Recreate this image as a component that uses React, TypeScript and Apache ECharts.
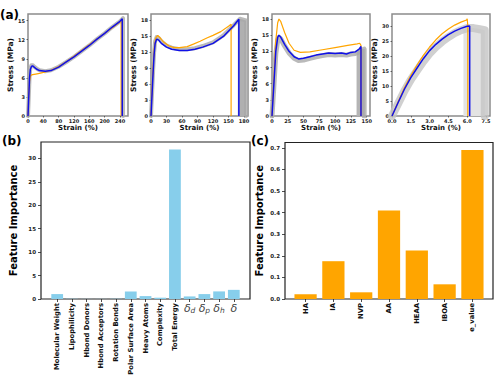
import React, { useEffect, useRef } from 'react';
import * as echarts from 'echarts';

type Pt = [number, number];

// ---------- (a) stress–strain data ----------
const p1Blue: Pt[] = [[0,0],[2,3],[4,6],[6,7.3],[9,7.8],[12,7.9],[16,7.7],[22,7.4],[30,7.15],[45,7.05],[60,7.15],[80,7.7],[100,8.5],[120,9.3],[140,10.2],[160,11.1],[180,12.1],[200,13.0],[220,14.0],[240,14.9],[246,15.3],[246,0]];
const p1Orange: Pt[] = [[0,0],[2,3],[4,5.5],[7,6.4],[12,6.5],[20,6.6],[30,6.7],[45,6.95],[60,7.2],[80,7.8],[100,8.55],[120,9.4],[140,10.3],[160,11.2],[180,12.1],[200,13.0],[220,13.9],[238,14.7],[243,15.0],[243,0]];
const p1Gray: Pt[] = [[0,0],[2,3],[4,6.1],[6,7.5],[9,8.0],[12,8.0],[16,7.8],[22,7.5],[30,7.2],[45,7.05],[60,7.2],[80,7.75],[100,8.5],[120,9.3],[140,10.2],[160,11.1],[180,12.1],[200,13.0],[220,14.0],[240,14.9],[248,15.4],[248,0]];

const p2Blue: Pt[] = [[0,0],[2,4],[4,8],[6,11.5],[8,13.6],[11,14.4],[15,14.2],[20,13.6],[30,12.9],[40,12.5],[55,12.25],[70,12.25],[85,12.5],[100,12.9],[120,13.6],[140,14.9],[153,16.2],[160,16.9],[170,18.1],[170,0]];
const p2Orange: Pt[] = [[0,0],[2,5],[4,9],[6,12.5],[9,14.6],[13,15.1],[18,14.6],[25,13.8],[35,13.1],[45,12.8],[55,12.8],[70,13.0],[82,13.45],[95,14.0],[108,14.6],[120,15.1],[135,15.8],[150,16.8],[155,17.2],[155,0]];
const p2Gray: Pt[] = [[0,0],[2,4.2],[4,8.3],[6,11.9],[8,14.0],[11,14.8],[15,14.6],[20,14.0],[30,13.2],[40,12.8],[55,12.5],[70,12.5],[85,12.7],[100,13.1],[120,13.8],[140,15.1],[160,17.0],[172,18.2],[184,17.9],[184,0]];
const p2Fracture: Pt[] = [[168,17.9],[172,18.2],[184,17.9],[184,0]];

const p3Blue: Pt[] = [[0,0],[3,6],[6,12],[9,14.6],[11,15.0],[14,14.6],[20,13.3],[27,12.0],[35,11.0],[42,10.6],[50,10.7],[60,11.0],[70,11.3],[80,11.5],[90,11.7],[100,11.6],[110,11.7],[118,11.5],[125,11.8],[132,11.9],[138,12.4],[141,12.9],[141,0]];
const p3Orange: Pt[] = [[0,0],[3,7],[6,14],[9,17.3],[11,18.0],[14,17.5],[20,15.5],[27,13.5],[35,12.2],[45,11.8],[60,11.9],[80,12.3],[100,12.7],[120,13.1],[135,13.4],[139,13.5],[141,13.1],[141,0]];
const p3Gray: Pt[] = [[0,0],[3,5.6],[6,11.5],[9,14.1],[11,14.6],[14,14.3],[20,13.0],[27,11.7],[35,10.7],[42,10.3],[50,10.4],[60,10.7],[70,11.0],[80,11.2],[90,11.4],[100,11.3],[110,11.4],[118,11.3],[125,11.5],[132,11.6],[140,12.0],[146,12.4],[146,0]];
const p3Fracture: Pt[] = [[134,11.8],[140,12.4],[147,12.5],[147,0]];

const p4Blue: Pt[] = [[0,0],[0.5,4.6],[1,9],[1.5,12.8],[2,16],[2.5,19.1],[3,21.8],[3.5,23.9],[4,25.6],[4.5,27.1],[5,28.3],[5.5,29.2],[6,29.9],[6.2,30.0],[6.2,0]];
const p4Orange: Pt[] = [[0,0],[0.5,4.8],[1,9.5],[1.5,13.5],[2,17],[2.5,20.2],[3,23.0],[3.5,25.4],[4,27.4],[4.5,29.0],[5,30.3],[5.5,31.3],[5.95,32.0],[6.0,32.4],[6.05,30.0],[6.05,0]];
const p4Gray: Pt[] = [[0,0],[0.5,4.2],[1,8.4],[1.5,12.1],[2,15.2],[2.5,18.2],[3,20.8],[3.5,23.0],[4,24.8],[4.5,26.3],[5,27.6],[5.5,28.6],[6,29.3],[6.5,29.3],[7,28.9],[7.4,28.6],[7.4,0]];
const p4Fracture: Pt[] = [[5.7,28.8],[6.2,29.5],[7,29.0],[7.4,28.6],[7.4,0]];

const p1XTicks = [0, 40, 80, 120, 160, 200, 240];
const p1YTicks = [0, 3, 6, 9, 12, 15];
const p2XTicks = [0, 30, 60, 90, 120, 150, 180];
const p2YTicks = [0, 3, 6, 9, 12, 15, 18];
const p3XTicks = [0, 25, 50, 75, 100, 125, 150];
const p3YTicks = [0, 3, 6, 9, 12, 15, 18];
const p4XTicks = [0, 1.5, 3, 4.5, 6, 7.5];
const p4YTicks = [0, 5, 10, 15, 20, 25, 30];

// ---------- (b) feature importance ----------
const bCategories = ['Molecular Weight', 'Lipophilicity', 'Hbond Donors', 'Hbond Acceptors', 'Rotation Bonds', 'Polar Surface Area', 'Heavy Atoms', 'Complexity', 'Total Energy'];
const bDeltaSubs = ['d', 'p', 'h', ''];
const bValues = [1.05, 0.05, 0.02, 0.02, 0.05, 1.62, 0.62, 0.28, 31.9, 0.55, 1.05, 1.62, 1.95];
const bYTicks = [0, 5, 10, 15, 20, 25, 30];

// ---------- (c) feature importance ----------
const cCategories = ['HA', 'IA', 'NVP', 'AA', 'HEAA', 'IBOA', 'e_value'];
const cValues = [0.022, 0.175, 0.031, 0.41, 0.225, 0.068, 0.69];
const cYTicks = [0, 0.1, 0.2, 0.3, 0.4, 0.5, 0.6, 0.7];

const FONT = 'DejaVu Sans';

function buildOption() {
  const topPanels = [
    { left: 28, width: 100, xMax: 261, yMax: 16.05, xTicks: p1XTicks, yTicks: p1YTicks, blue: p1Blue, orange: p1Orange, gray: p1Gray, grayW: 4, grayC: '#a9a9a9', frac: null as Pt[] | null, fracColor: '#aaa', dec: 0 },
    { left: 151, width: 97, xMax: 187.7, yMax: 19.1, xTicks: p2XTicks, yTicks: p2YTicks, blue: p2Blue, orange: p2Orange, gray: p2Gray, grayW: 4, grayC: '#a9a9a9', frac: p2Fracture, fracColor: '#b0b0b0', dec: 0 },
    { left: 272, width: 98, xMax: 155.3, yMax: 18.93, xTicks: p3XTicks, yTicks: p3YTicks, blue: p3Blue, orange: p3Orange, gray: p3Gray, grayW: 5, grayC: '#a9a9a9', frac: p3Fracture, fracColor: '#b4b4b4', dec: 0 },
    { left: 392, width: 98, xMax: 7.82, yMax: 34, xTicks: p4XTicks, yTicks: p4YTicks, blue: p4Blue, orange: p4Orange, gray: p4Gray, grayW: 8, grayC: '#c4c4c4', frac: p4Fracture, fracColor: '#e3e3e3', dec: 1 },
  ];

  const grids: any[] = [];
  const xAxes: any[] = [];
  const yAxes: any[] = [];
  const series: any[] = [];

  const tickLbl = (size: number) => ({ fontFamily: FONT, fontWeight: 'bold', fontSize: size, color: '#222' });
  const noLine = { show: false, onZero: false };

  topPanels.forEach((p, i) => {
    grids.push({ left: p.left, top: 14, width: p.width, height: 102, show: true, borderColor: '#8c8c8c', borderWidth: 1.5 });
    xAxes.push({
      type: 'value', gridIndex: i, min: 0, max: p.xMax,
      name: 'Strain (%)', nameLocation: 'middle', nameGap: 6.5,
      nameTextStyle: { fontFamily: FONT, fontWeight: 'bold', fontSize: 7, color: '#111' },
      axisLine: noLine,
      axisTick: { show: true, length: 1.5, customValues: p.xTicks, lineStyle: { color: '#333', width: 0.7 } },
      axisLabel: { ...tickLbl(5), customValues: p.xTicks, margin: 2.5, formatter: (v: number) => v.toFixed(p.dec) },
      splitLine: { show: false },
    });
    yAxes.push({
      type: 'value', gridIndex: i, min: 0, max: p.yMax,
      name: 'Stress (MPa)', nameLocation: 'middle', nameGap: 9.5,
      nameTextStyle: { fontFamily: FONT, fontWeight: 'bold', fontSize: 7.5, color: '#111' },
      axisLine: noLine,
      axisTick: { show: true, length: 1.5, customValues: p.yTicks, lineStyle: { color: '#333', width: 0.7 } },
      axisLabel: { ...tickLbl(5), customValues: p.yTicks, margin: 3 },
      splitLine: { show: false },
    });
    if (p.frac) {
      series.push({
        type: 'line', xAxisIndex: i, yAxisIndex: i, data: p.frac, symbol: 'none', z: 1,
        lineStyle: { width: 0, color: p.fracColor }, areaStyle: { color: p.fracColor, opacity: 1 },
      });
    }
    series.push({ type: 'line', xAxisIndex: i, yAxisIndex: i, data: p.gray, symbol: 'none', z: 2,
      lineStyle: { width: p.grayW, color: p.grayC, opacity: 0.8, join: 'round', cap: 'round' } });
    series.push({ type: 'line', xAxisIndex: i, yAxisIndex: i, data: p.orange, symbol: 'none', z: 3,
      lineStyle: { width: 1.2, color: '#FFA500' } });
    series.push({ type: 'line', xAxisIndex: i, yAxisIndex: i, data: p.blue, symbol: 'none', z: 4,
      lineStyle: { width: 1.5, color: '#1010e8' } });
  });

  // ---------- (b) ----------
  const bGrid = { left: 41, top: 142, width: 209, height: 157 };
  const bMin = -1.1, bMax = 13.1;
  grids.push({ ...bGrid, show: true, borderColor: '#222', borderWidth: 1.2 });
  const bIdx = bCategories.map((_, i) => i);
  const allB = bValues.map((_, i) => i);
  const deltaIdx = bDeltaSubs.map((_, i) => bCategories.length + i);
  xAxes.push({
    type: 'value', gridIndex: 4, min: bMin, max: bMax, position: 'bottom',
    axisLine: noLine,
    axisTick: { show: true, length: 3, customValues: allB, lineStyle: { color: '#222', width: 0.8 } },
    axisLabel: { customValues: bIdx, rotate: 90, margin: 4, fontFamily: FONT, fontWeight: 'bold', fontSize: 6.8, color: '#111',
      formatter: (v: number) => bCategories[Math.round(v)] ?? '' },
    splitLine: { show: false },
  });
  xAxes.push({
    type: 'value', gridIndex: 4, min: bMin, max: bMax, position: 'bottom',
    axisLine: noLine, axisTick: { show: false },
    axisLabel: { customValues: deltaIdx, rotate: 0, margin: 3,
      formatter: (v: number) => `{g|δ}{s|${bDeltaSubs[Math.round(v) - bCategories.length]}}`,
      rich: {
        g: { fontFamily: FONT, fontStyle: 'italic', fontSize: 11, color: '#444', lineHeight: 12 },
        s: { fontFamily: FONT, fontStyle: 'italic', fontSize: 7.5, color: '#444', lineHeight: 12, padding: [5, 0, 0, 0] },
      } },
    splitLine: { show: false },
  });
  yAxes.push({
    type: 'value', gridIndex: 4, min: 0, max: 33.5,
    name: 'Feature Importance', nameLocation: 'middle', nameGap: 23,
    nameTextStyle: { fontFamily: FONT, fontWeight: 'bold', fontSize: 10, color: '#000' },
    axisLine: noLine,
    axisTick: { show: true, length: 3, customValues: bYTicks, lineStyle: { color: '#222', width: 0.8 } },
    axisLabel: { ...tickLbl(5.5), customValues: bYTicks, margin: 5 },
    splitLine: { show: false },
  });
  series.push({
    type: 'bar', xAxisIndex: 4, yAxisIndex: 4, data: bValues.map((v, i) => [i, v]),
    barWidth: (0.8 * bGrid.width) / (bMax - bMin), itemStyle: { color: '#87CEEB' },
  });

  // ---------- (c) ----------
  const cGrid = { left: 285, top: 142.5, width: 208, height: 156.5 };
  const cMin = -0.74, cMax = 6.74;
  grids.push({ ...cGrid, show: true, borderColor: '#222', borderWidth: 1.2 });
  const cIdx = cCategories.map((_, i) => i);
  xAxes.push({
    type: 'value', gridIndex: 5, min: cMin, max: cMax, position: 'bottom',
    axisLine: noLine,
    axisTick: { show: true, length: 3, customValues: cIdx, lineStyle: { color: '#222', width: 0.8 } },
    axisLabel: { customValues: cIdx, rotate: 90, margin: 4, fontFamily: FONT, fontWeight: 'bold', fontSize: 6.8, color: '#111',
      formatter: (v: number) => cCategories[Math.round(v)] ?? '' },
    splitLine: { show: false },
  });
  yAxes.push({
    type: 'value', gridIndex: 5, min: 0, max: 0.7245,
    name: 'Feature Importance', nameLocation: 'middle', nameGap: 21,
    nameTextStyle: { fontFamily: FONT, fontWeight: 'bold', fontSize: 10, color: '#000' },
    axisLine: noLine,
    axisTick: { show: true, length: 3, customValues: cYTicks, lineStyle: { color: '#222', width: 0.8 } },
    axisLabel: { ...tickLbl(5.5), customValues: cYTicks, margin: 5, formatter: (v: number) => v.toFixed(1) },
    splitLine: { show: false },
  });
  series.push({
    type: 'bar', xAxisIndex: 6, yAxisIndex: 5, data: cValues.map((v, i) => [i, v]),
    barWidth: (0.8 * cGrid.width) / (cMax - cMin), itemStyle: { color: '#FFA500' },
  });

  const panelLabel = (text: string, x: number, y: number) => ({
    type: 'text', x, y,
    style: { text, fontFamily: FONT, fontWeight: 'bold', fontSize: 12, fill: '#000', verticalAlign: 'middle', align: 'left' },
  });

  return {
    animation: false,
    backgroundColor: '#fff',
    grid: grids,
    xAxis: xAxes,
    yAxis: yAxes,
    series,
    graphic: [panelLabel('(a)', 0, 15), panelLabel('(b)', 2, 141), panelLabel('(c)', 251, 141)],
  };
}

export default function App() {
  const ref = useRef<HTMLDivElement>(null);
  useEffect(() => {
    if (!ref.current) return;
    const chart = echarts.init(ref.current, undefined, { renderer: 'svg' });
    chart.setOption(buildOption() as any);
    return () => chart.dispose();
  }, []);
  return <div ref={ref} style={{ position: 'fixed', left: 0, top: 0, width: 500, height: 383 }} />;
}
